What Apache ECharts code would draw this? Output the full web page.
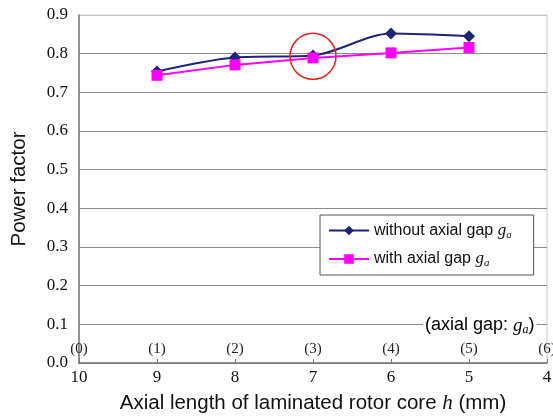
<!DOCTYPE html>
<html>
<head>
<meta charset="utf-8">
<script src="https://cdn.jsdelivr.net/npm/echarts@6/dist/echarts.min.js"></script>
<style>
    html, body { margin: 0; padding: 0; background: #fff; }
    #main { width: 553px; height: 417px; }
</style>
</head>
<body>
<div id="main"></div>
<script>
// 转子铁芯长度 h (mm) 与功率因数
var hValues = [9, 8, 7, 6, 5];
var withoutGap = [0.754, 0.790, 0.795, 0.852, 0.845];
var withGap = [0.744, 0.771, 0.789, 0.802, 0.816];
var hTicks = [10, 9, 8, 7, 6, 5, 4];
var gapTicks = ['(0)', '(1)', '(2)', '(3)', '(4)', '(5)', '(6)'];
var circledPoint = [7, 0.793];

function drawPowerFactor() {
    var serif = 'Liberation Serif';
    var sans = 'Liberation Sans';
    var gaRich = {
        t: { fontFamily: sans, fontSize: 16, color: '#111' },
        g: { fontFamily: serif, fontStyle: 'italic', fontSize: 17, color: '#111' },
        s: { fontFamily: serif, fontStyle: 'italic', fontSize: 11, color: '#111', padding: [9, 0, 0, 0] }
    };
    var splitColors = [];
    for (var i = 0; i < 10; i++) {
        splitColors.push(i === 9 ? '#c8c8c8' : '#8a8a8a');
    }
    var option = {
        backgroundColor: '#fff',
        animation: false,
        grid: {
            left: 79, right: 6, top: 15, bottom: 54,
            outerBoundsMode: 'none',
            containLabel: false,
            show: true,
            borderColor: '#c8c8c8',
            borderWidth: 1
        },
        legend: {
            orient: 'vertical',
            left: 320,
            top: 215,
            padding: [7, 22, 6, 8],
            itemGap: 10,
            itemWidth: 40,
            itemHeight: 12,
            backgroundColor: '#fff',
            borderColor: '#555',
            borderWidth: 1,
            data: ['without', 'with'],
            formatter: function (name) {
                return name === 'without'
                    ? '{t|without axial gap }{g|g}{s|a}'
                    : '{t|with axial gap }{g|g}{s|a}';
            },
            textStyle: { rich: gaRich }
        },
        xAxis: [{
            type: 'value',
            min: 4, max: 10, interval: 1,
            inverse: true,
            name: 'Axial length of laminated rotor core {i|h} (mm)',
            nameLocation: 'middle',
            nameGap: 30,
            nameTextStyle: {
                fontFamily: sans, fontSize: 20.5, color: '#111',
                rich: { i: { fontFamily: serif, fontStyle: 'italic', fontSize: 21, color: '#111' } }
            },
            axisLine: { lineStyle: { color: '#777', width: 1.5 } },
            axisTick: { show: true, inside: true, length: 4, lineStyle: { color: '#777' } },
            axisLabel: {
                fontFamily: serif, fontSize: 17, color: '#111', margin: 6,
                formatter: function (v) { return String(v); }
            },
            splitLine: { show: false }
        }, {
            type: 'value',
            min: 4, max: 10, interval: 1,
            inverse: true,
            position: 'bottom',
            axisLine: { show: false },
            axisTick: { show: false },
            axisLabel: {
                inside: true, margin: 6,
                fontFamily: serif, fontSize: 15, color: '#222',
                formatter: function (v) { return gapTicks[hTicks.indexOf(v)]; }
            },
            splitLine: { show: false }
        }],
        yAxis: {
            type: 'value',
            min: 0, max: 0.9, interval: 0.1,
            name: 'Power factor',
            nameLocation: 'middle',
            nameGap: 49,
            nameTextStyle: { fontFamily: sans, fontSize: 20.5, color: '#111' },
            axisLine: { show: true, lineStyle: { color: '#777', width: 1.5 } },
            axisTick: { show: false },
            axisLabel: {
                fontFamily: serif, fontSize: 17, color: '#111', margin: 11,
                formatter: function (v) { return v.toFixed(1); }
            },
            splitLine: { show: true, lineStyle: { color: splitColors, width: 1 } }
        },
        graphic: [{
            type: 'text',
            left: 423,
            top: 314,
            z: 10,
            style: {
                text: '{t|(axial gap: }{g|g}{s|a}{t|)}',
                backgroundColor: '#fff',
                padding: [1, 2],
                rich: {
                    t: { fontFamily: sans, fontSize: 18, color: '#111' },
                    g: { fontFamily: serif, fontStyle: 'italic', fontSize: 19, color: '#111' },
                    s: { fontFamily: serif, fontStyle: 'italic', fontSize: 12, color: '#111', padding: [9, 0, 0, 0] }
                }
            }
        }],
        series: [{
            name: 'without',
            type: 'line',
            smooth: 0.3,
            symbol: 'diamond',
            symbolSize: 12,
            lineStyle: { color: '#1c2478', width: 2 },
            itemStyle: { color: '#1c2478' },
            data: hValues.map(function (h, k) { return [h, withoutGap[k]]; }),
            markPoint: {
                symbol: 'circle',
                symbolSize: 46,
                silent: true,
                label: { show: false },
                itemStyle: { color: 'rgba(0,0,0,0)', borderColor: '#e4221b', borderWidth: 1.5 },
                data: [{ coord: circledPoint }]
            },
            z: 3
        }, {
            name: 'with',
            type: 'line',
            symbol: 'rect',
            symbolSize: 11,
            lineStyle: { color: '#ff00ff', width: 2 },
            itemStyle: { color: '#ff00ff' },
            data: hValues.map(function (h, k) { return [h, withGap[k]]; }),
            z: 4
        }]
    };
    var myChart = echarts.init(document.getElementById('main'));
    myChart.setOption(option);
}
drawPowerFactor();
</script>
</body>
</html>
